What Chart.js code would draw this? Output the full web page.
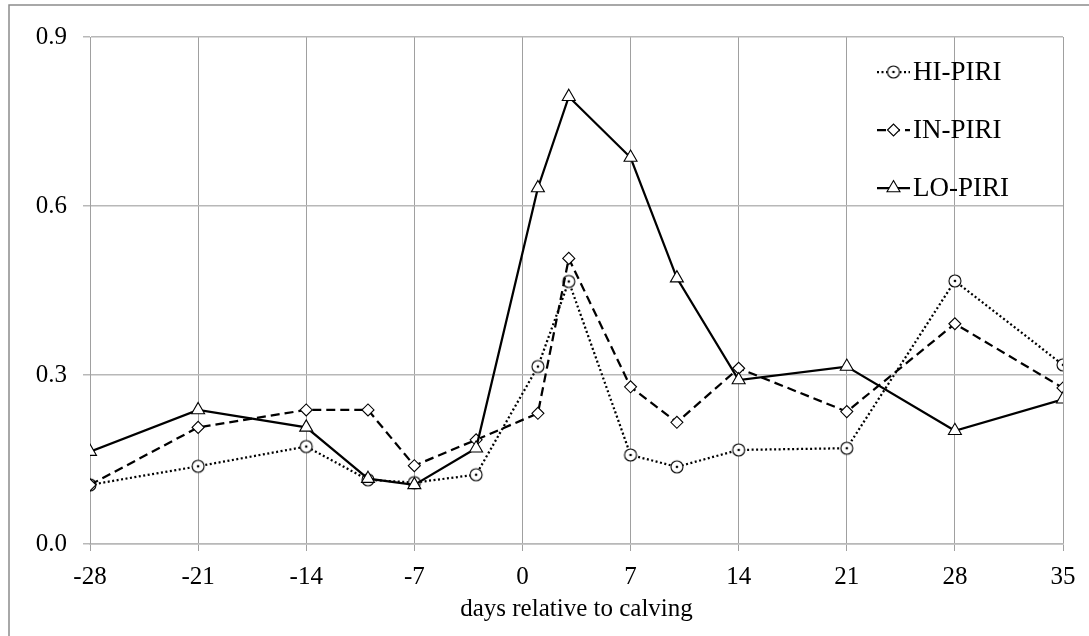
<!DOCTYPE html>
<html>
<head>
<meta charset="utf-8">
<script src="https://cdn.jsdelivr.net/npm/chart.js@4.4.1/dist/chart.umd.min.js"></script>
<style>
  body { margin: 0; background: #fff; }
  canvas { display: block; }
</style>
</head>
<body>
<canvas id="piri" width="1089" height="636"></canvas>
<script>
// sampling days and group means
var days = [-28, -21, -14, -10, -7, -3, 1, 3, 7, 10, 14, 21, 28, 35];
var hiPiri = [0.105, 0.138, 0.173, 0.114, 0.109, 0.123, 0.315, 0.466, 0.158, 0.137, 0.167, 0.170, 0.467, 0.318];
var inPiri = [0.105, 0.207, 0.238, 0.238, 0.139, 0.185, 0.232, 0.507, 0.279, 0.216, 0.312, 0.235, 0.391, 0.277];
var loPiri = [0.164, 0.238, 0.207, 0.116, 0.105, 0.170, 0.632, 0.794, 0.686, 0.472, 0.291, 0.315, 0.201, 0.257];
var seriesNames = ['HI-PIRI', 'IN-PIRI', 'LO-PIRI'];
var xRange = [-28, 35, 7];
var yRange = [0, 0.9, 0.3];
var xTitle = 'days relative to calving';

var serif = '"Liberation Serif", "DejaVu Serif", serif';

function circleDot(r) {
    var c = document.createElement('canvas');
    var s = Math.ceil(r * 2 + 4);
    c.width = s; c.height = s;
    var g = c.getContext('2d');
    g.beginPath();
    g.arc(s / 2, s / 2, r, 0, 2 * Math.PI);
    g.fillStyle = '#fff';
    g.fill();
    g.lineWidth = 1.1;
    g.strokeStyle = '#000';
    g.stroke();
    g.beginPath();
    g.arc(s / 2, s / 2, 1.3, 0, 2 * Math.PI);
    g.fillStyle = '#000';
    g.fill();
    return c;
}

function pts(values) {
    return days.map(function(d, i) { return {x: d, y: values[i]}; });
}

function series(label, values, style, radius, dash, order) {
    return {
        label: label,
        data: pts(values),
        borderColor: '#000',
        borderWidth: 2.25,
        borderDash: dash,
        pointStyle: style,
        pointRadius: radius,
        pointHoverRadius: radius,
        pointBackgroundColor: '#fff',
        pointBorderColor: '#000',
        pointBorderWidth: 1.1,
        tension: 0,
        order: order
    };
}

var circleMark = circleDot(6);

// outer frame, only its left and top edges fall inside the page
var framePlugin = {
    id: 'frame',
    beforeDraw: function(chart) {
        var ctx = chart.ctx;
        ctx.save();
        ctx.strokeStyle = '#8c8c8c';
        ctx.lineWidth = 1.5;
        ctx.beginPath();
        ctx.moveTo(9, chart.height);
        ctx.lineTo(9, 5);
        ctx.lineTo(chart.width, 5);
        ctx.stroke();
        ctx.restore();
    }
};

// legend sitting inside the plot, upper right
var legendPlugin = {
    id: 'insideLegend',
    afterDraw: function(chart) {
        var ctx = chart.ctx, area = chart.chartArea;
        var x0 = area.right - 186, y0 = area.top + 35;
        chart.data.datasets.forEach(function(ds, i) {
            var y = y0 + i * 58;
            ctx.save();
            ctx.strokeStyle = '#000';
            ctx.lineWidth = 2.25;
            ctx.setLineDash(ds.borderDash || []);
            ctx.beginPath();
            ctx.moveTo(x0, y);
            ctx.lineTo(x0 + 33, y);
            ctx.stroke();
            ctx.setLineDash([]);
            ctx.fillStyle = '#fff';
            ctx.strokeStyle = '#000';
            ctx.lineWidth = 1.1;
            Chart.helpers.drawPoint(ctx, {pointStyle: ds.pointStyle, radius: ds.pointRadius, rotation: 0, borderWidth: 1.1}, x0 + 16.5, y);
            ctx.fillStyle = '#000';
            ctx.font = '27px ' + serif;
            ctx.textBaseline = 'middle';
            ctx.textAlign = 'left';
            ctx.fillText(ds.label, x0 + 36, y + 1);
            ctx.restore();
        });
    }
};

new Chart(document.getElementById('piri'), {
    type: 'line',
    data: {
        datasets: [
            series(seriesNames[0], hiPiri, circleMark, 6, [2, 2.5], 2),
            series(seriesNames[1], inPiri, 'rectRot', 6, [9, 5], 1),
            series(seriesNames[2], loPiri, 'triangle', 7.5, [], 0)
        ]
    },
    options: {
        responsive: false,
        animation: false,
        layout: {padding: {left: 10, top: 37, right: 26, bottom: 12}},
        plugins: {
            legend: {display: false},
            tooltip: {enabled: false}
        },
        scales: {
            x: {
                type: 'linear',
                min: xRange[0],
                max: xRange[1],
                ticks: {stepSize: xRange[2], color: '#000', padding: 11, font: {family: serif, size: 25}},
                grid: {color: '#a0a0a0', lineWidth: 1, tickLength: 7},
                border: {color: '#b8b8b8', width: 1.5},
                title: {display: true, text: xTitle, color: '#000', padding: 0, font: {family: serif, size: 25}},
                afterFit: function(scale) { scale.height = 80; }
            },
            y: {
                min: yRange[0],
                max: yRange[1],
                ticks: {
                    stepSize: yRange[2],
                    color: '#000',
                    padding: 16,
                    font: {family: serif, size: 25},
                    callback: function(v) { return v.toFixed(1); }
                },
                grid: {color: '#b8b8b8', lineWidth: 1.5, tickLength: 7},
                border: {color: '#a0a0a0', width: 1},
                afterFit: function(scale) { scale.width = 80; }
            }
        }
    },
    plugins: [framePlugin, legendPlugin]
});
</script>
</body>
</html>
